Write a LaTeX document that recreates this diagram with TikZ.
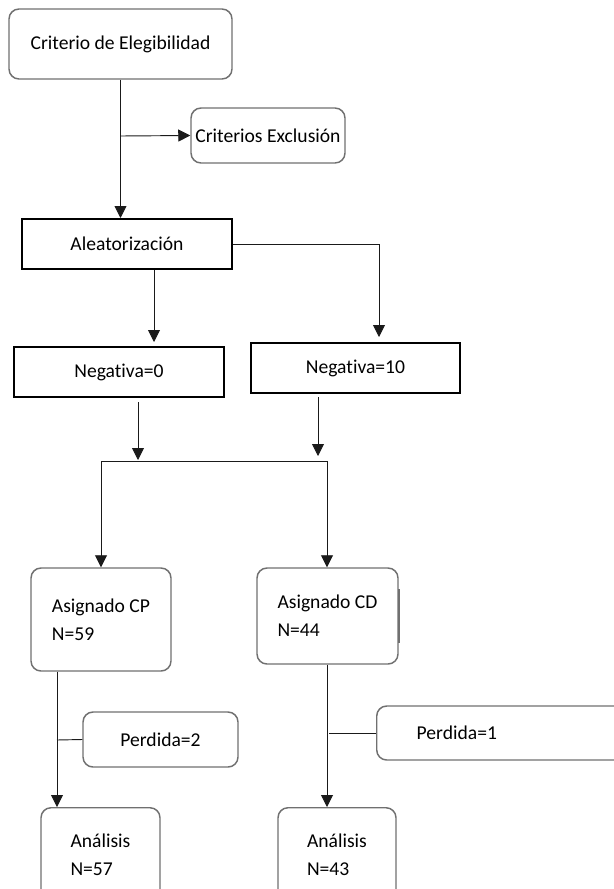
\documentclass[tikz,border=0pt]{standalone}
\usepackage{fontspec}
\setmainfont{Carlito}[Ligatures=NoCommon]
\usetikzlibrary{arrows.meta}
\definecolor{boxgray}{HTML}{707070}
\definecolor{linedark}{HTML}{1A1A1A}

\begin{document}
\begin{tikzpicture}[x=0.75pt, y=-0.75pt,
    every node/.style={font=\fontsize{14.7}{21}\selectfont, inner sep=0pt},
    roundbox/.style={draw=boxgray, line width=1.1pt, rounded corners=7.5pt},
    squarebox/.style={draw=black, line width=1.5pt},
    arr/.style={-{Triangle[length=9pt, width=9pt]}, line width=0.7pt, color=linedark},
    plain/.style={line width=0.7pt, color=linedark}]
    \useasboundingbox (0,0) rectangle (614,889);
    \clip (0,0) rectangle (614,889);
    \node[roundbox, minimum width=167.25pt, minimum height=52.5pt] (elig) at (120.5,44)
      {Criterio de Elegibilidad};
    \node[roundbox, minimum width=115.5pt, minimum height=41.25pt] (excl) at (268,135.5)
      {Criterios Exclusión};
    \node[squarebox, minimum width=157.5pt, minimum height=37.5pt] (alea) at (127,244)
      {Aleatorización};
    \node[squarebox, minimum width=157.5pt, minimum height=37.5pt] (neg0) at (119,372)
      {Negativa=0};
    \node[squarebox, minimum width=156.75pt, minimum height=37.5pt] (neg10) at (355.5,368)
      {Negativa=10};
    \node[roundbox, align=left, minimum width=105pt,
      minimum height=77.25pt] (asigcp) at (101,619.5) {Asignado CP\\N=59};
    \node[roundbox, align=left, minimum width=105.75pt,
      minimum height=72pt] (asigcd) at (327.5,616) {Asignado CD\\N=44};
    \node[roundbox, minimum width=116.25pt, minimum height=41.25pt] (perd2) at (160.5,739.5)
      {Perdida=2};
    \node[roundbox, anchor=west, inner xsep=30pt, text width=138pt, align=left,
      minimum height=40.5pt] (perd1) at (376,733) {Perdida=1};
    \node[roundbox, anchor=north, align=left, minimum width=89.25pt,
      minimum height=71.25pt] (anacp) at (100.5,807) {Análisis\\N=57};
    \node[roundbox, anchor=north, align=left, minimum width=88.5pt,
      minimum height=71.25pt] (anacd) at (337,807) {Análisis\\N=43};
    \draw[line width=1.8pt, color=boxgray] ([yshift=20pt]asigcd.east) -- ([yshift=-20pt]asigcd.east);
    \coordinate (exbr) at (120.5,136);
    \coordinate (n10in) at (379,337);
    \coordinate (n0in) at (154,342);
    \coordinate (n0out) at (138,402);
    \coordinate (n10out) at (318,397);
    \coordinate (jl) at (101,461);
    \coordinate (jr) at (327,461);
    \coordinate (cpx) at (57,740);
    \coordinate (cdx) at (327,733);
    \draw[arr] (elig.south -| exbr) -- (alea.north -| exbr);
    \draw[arr] (exbr) -- (excl.west);
    \draw[arr] (alea.east) -| (n10in);
    \draw[arr] (alea.south -| n0in) -- (n0in);
    \draw[arr] (n0out) -- ([yshift=0.75pt]n0out |- jl);
    \draw[arr] (n10out) -- ([yshift=3.75pt]n10out |- jr);
    \draw[plain] (jl) -- (jr);
    \draw[arr] (jl) -- (jl |- asigcp.north);
    \draw[arr] (jr) -- (jr |- asigcd.north);
    \draw[arr] (asigcp.south -| cpx) -- (anacp.north -| cpx);
    \draw[plain] (cpx) -- (perd2.west);
    \draw[arr] (asigcd.south -| cdx) -- (anacd.north -| cdx);
    \draw[plain] ([xshift=1.5pt]cdx) -- (perd1.west);
  \end{tikzpicture}
\end{document}
